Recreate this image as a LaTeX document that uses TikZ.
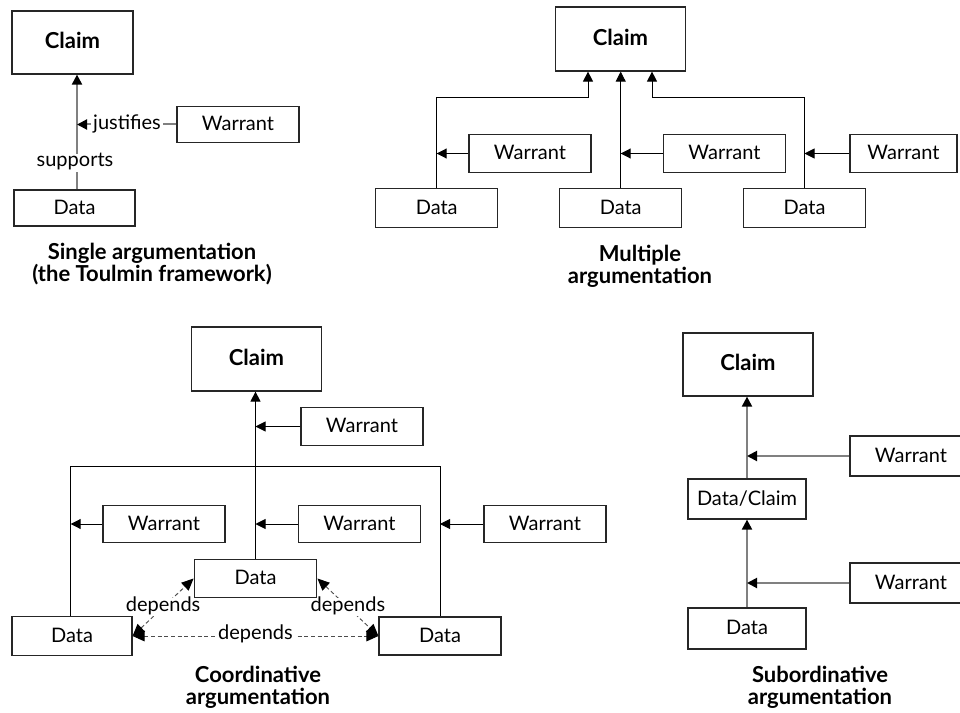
\documentclass[tikz,border=0pt]{standalone}
\usepackage{fontspec}
\setmainfont{Lato}
\usetikzlibrary{arrows.meta}

\begin{document}
\begin{tikzpicture}[x=0.75pt,y=-0.75pt,
  font=\fontsize{15pt}{18pt}\selectfont,
  box/.style={draw=black!85, line width=0.9pt, fill=white, inner sep=0pt,
    text height=2.0ex, text depth=0.2ex},
  wbox/.style={box, minimum width=91.5pt, minimum height=29pt},
  claimfont/.style={font=\fontsize{16.5pt}{18pt}\selectfont\bfseries},
  claimbox/.style={box, claimfont, minimum width=98pt, minimum height=48pt},
  tip/.style={-{Triangle[length=7.5pt,width=7.5pt,color=black]}},
  bline/.style={draw=black, line width=0.7pt, tip},
  gline/.style={draw=black!50, line width=1.5pt, tip},
  dep/.style={draw=black!70, line width=0.7pt, dashed, dash pattern=on 3pt off 2pt,
    {Triangle[length=9pt,width=8pt,color=black]}-{Triangle[length=9pt,width=8pt,color=black]}},
  lbl/.style={fill=white, inner sep=1.5pt, text height=1.6ex, text depth=0.45ex},
  title/.style={align=center, font=\fontsize{16.5pt}{16.5pt}\selectfont\bfseries}]

\useasboundingbox (0,0) rectangle (960,713);
\clip (0,0) rectangle (960,713);

% ---------- Single argumentation ----------
\node[box, claimfont, minimum width=90.75pt, minimum height=47.25pt] (C1) at (72.5,42.5) {Claim};
\node[box, minimum width=91.5pt, minimum height=26.5pt] (W1) at (238,124.5) {Warrant};
\node[box, minimum width=90.75pt, minimum height=27pt] (D1) at (74.5,208) {Data};
\coordinate (s1) at (77,126);
\draw[gline] (D1.north -| s1) -- (C1.south -| s1);
\draw[gline] (W1.west) -- (W1.west -| s1);
\node[lbl] (sup) at (75,163) {supports};
\node[lbl] (jus) at (127,126) {justifies};
\node[title] (t1) at (152,264) {Single argumentation\\(the Toulmin framework)};

% ---------- Multiple argumentation ----------
\node[claimbox] (C2) at (620.5,39) {Claim};
\node[wbox] (W2a) at (530,153.5) {Warrant};
\node[wbox] (W2b) at (724.5,153.5) {Warrant};
\node[box, minimum width=80.25pt, minimum height=29pt] (W2c) at (903.5,153.5) {Warrant};
\node[wbox] (D2a) at (436.7,208) {Data};
\node[wbox] (D2b) at (620.7,208) {Data};
\node[wbox] (D2c) at (804.5,208) {Data};
\coordinate (b1) at (588,97);
\coordinate (b2) at (652,97);
\draw[bline] (D2a.north) |- (b1) -- (b1 |- C2.south);
\draw[bline] (D2b.north) -- (D2b.north |- C2.south);
\draw[bline] (D2c.north) |- (b2) -- (b2 |- C2.south);
\draw[bline] (W2a.west) -- (W2a.west -| D2a.north);
\draw[bline] (W2b.west) -- (W2b.west -| D2b.north);
\draw[bline] (W2c.west) -- (W2c.west -| D2c.north);
\node[title] (t2) at (640,266.5) {Multiple\\argumentation};

% ---------- Coordinative argumentation ----------
\node[claimbox] (C3) at (256.5,359) {Claim};
\node[wbox] (W3a) at (362,426.5) {Warrant};
\node[box, minimum width=91.5pt, minimum height=27.5pt] (W3b) at (164,524) {Warrant};
\node[box, minimum width=91pt, minimum height=27.5pt] (W3c) at (359.5,524) {Warrant};
\node[box, minimum width=91.5pt, minimum height=27.5pt] (W3d) at (545,524) {Warrant};
\node[box, minimum width=92pt, minimum height=29pt] (Dc) at (255.5,578.5) {Data};
\node[box, minimum width=90pt, minimum height=29pt] (Dl) at (72,636) {Data};
\node[box, minimum width=91.5pt, minimum height=28.5pt] (Dr) at (440,636) {Data};
\coordinate (bl) at (70.7,466);
\coordinate (br) at (440,466);
\draw[bline] (Dc.north) -- (Dc.north |- C3.south);
\draw[draw=black, line width=0.7pt] (Dl.north -| bl) -- (bl) -- (br) -- (Dr.north -| br);
\draw[bline] (W3a.west) -- (W3a.west -| Dc.north);
\draw[bline] (W3b.west) -- (W3b.west -| bl);
\draw[bline] (W3c.west) -- (W3c.west -| Dc.north);
\draw[bline] (W3d.west) -- (W3d.west -| br);
\draw[dep] (Dl.east) -- node[lbl] (dp1) {depends} (Dc.west);
\draw[dep] (Dc.east) -- node[lbl] (dp2) {depends} (Dr.west);
\draw[dep] (Dl.east) -- node[lbl] (dp3) {depends} (Dr.west);
\node[title] (t3) at (258,687.5) {Coordinative\\argumentation};

% ---------- Subordinative argumentation ----------
\node[box, claimfont, minimum width=97.5pt, minimum height=47.25pt] (C4) at (748,364.5) {Claim};
\node[box, minimum width=91.5pt, minimum height=30pt] (W4a) at (911,456) {Warrant};
\node[box, minimum width=88.5pt, minimum height=30pt] (DC) at (747,499) {Data/Claim};
\node[box, minimum width=91.5pt, minimum height=30pt] (W4b) at (911,583) {Warrant};
\node[box, minimum width=88.5pt, minimum height=30.75pt] (D4) at (747,628.5) {Data};
\draw[gline] (D4.north) -- (DC.south);
\draw[gline] (DC.north) -- (DC.north |- C4.south);
\draw[gline] (W4a.west) -- (W4a.west -| DC.north);
\draw[gline] (W4b.west) -- (W4b.west -| D4.north);
\node[title] (t4) at (820,687) {Subordinative\\argumentation};

\end{tikzpicture}
\end{document}
